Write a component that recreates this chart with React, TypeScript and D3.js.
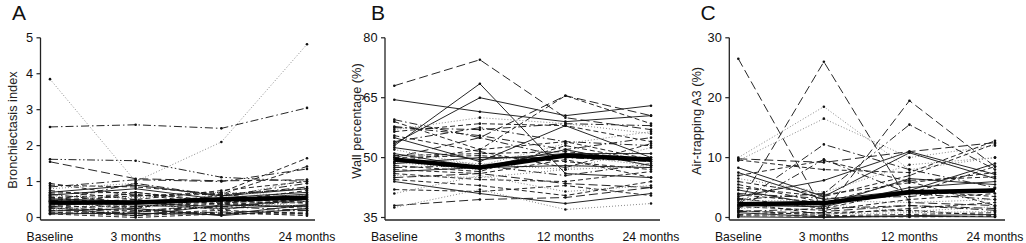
import React from "react";
import * as d3 from "d3";

const timepoints = ["Baseline", "3 months", "12 months", "24 months"];

// Panel A: Bronchiectasis index, one row per subject [Baseline, 3m, 12m, 24m]
const bronchiectasis: number[][] = [
  [3.85, 1.0, 2.1, 4.82],
  [2.52, 2.58, 2.48, 3.05],
  [1.62, 1.58, 1.12, 1.0],
  [1.55, 1.08, 1.02, 1.05],
  [0.95, 0.6, 0.7, 1.65],
  [0.9, 0.85, 0.65, 1.42],
  [0.85, 1.05, 1.0, 1.35],
  [0.8, 0.95, 0.55, 1.05],
  [0.75, 0.5, 0.75, 1.0],
  [0.7, 0.9, 0.6, 0.8],
  [0.68, 0.7, 0.45, 0.75],
  [0.65, 0.4, 0.6, 0.85],
  [0.62, 0.8, 0.5, 0.65],
  [0.6, 0.55, 0.7, 0.6],
  [0.58, 0.3, 0.4, 0.55],
  [0.55, 0.65, 0.35, 0.5],
  [0.52, 0.45, 0.55, 0.7],
  [0.5, 0.2, 0.3, 0.45],
  [0.48, 0.6, 0.65, 0.4],
  [0.45, 0.35, 0.25, 0.35],
  [0.42, 0.25, 0.5, 0.3],
  [0.4, 0.5, 0.2, 0.6],
  [0.38, 0.15, 0.4, 0.25],
  [0.35, 0.4, 0.3, 0.5],
  [0.32, 0.1, 0.15, 0.2],
  [0.3, 0.3, 0.45, 0.4],
  [0.28, 0.05, 0.35, 0.3],
  [0.25, 0.2, 0.1, 0.15],
  [0.22, 0.35, 0.25, 0.45],
  [0.2, 0.1, 0.2, 0.1],
  [0.18, 0.25, 0.05, 0.25],
  [0.15, 0.05, 0.15, 0.05],
  [0.12, 0.15, 0.3, 0.2],
  [0.1, 0.0, 0.1, 0.1],
  [0.1, 0.12, 0.08, 0.35],
  [0.3, 0.7, 0.4, 0.55],
  [0.45, 0.95, 0.6, 0.95],
  [0.55, 0.25, 0.65, 0.8],
];
const bronchiectasisMean = [0.42, 0.42, 0.5, 0.55];
const bronchiectasisStyles = [
  "dot", "dashdot", "dashdotdot", "long", "dash", "dash", "dashdot", "dot", "dash", "solid",
  "dash", "dashdot", "solid", "dot", "dash", "dash", "solid", "dashdot", "dash", "solid",
  "dot", "dash", "dash", "solid", "dashdot", "dash", "solid", "dash", "dot", "dash",
  "solid", "dash", "dashdot", "dash", "solid", "dash", "dashdot", "dash",
];

// Panel B: Wall percentage (%)
const wallPercentage: number[][] = [
  [68.0, 74.5, 60.0, 57.0],
  [64.5, 61.5, 59.0, 60.5],
  [53.0, 68.5, 46.0, 45.0],
  [53.5, 65.0, 60.5, 63.0],
  [50.0, 55.0, 65.5, 60.5],
  [59.0, 52.0, 65.5, 58.5],
  [57.5, 57.0, 58.5, 58.0],
  [57.0, 60.0, 58.5, 56.0],
  [56.5, 58.5, 58.0, 54.0],
  [55.0, 49.0, 58.0, 50.0],
  [54.0, 57.5, 54.0, 53.0],
  [52.0, 48.0, 53.5, 56.5],
  [51.0, 47.5, 52.0, 48.0],
  [50.5, 51.0, 51.5, 49.5],
  [50.0, 50.5, 49.0, 47.0],
  [49.5, 48.5, 47.0, 52.5],
  [48.5, 50.0, 50.0, 50.0],
  [48.0, 46.5, 53.0, 49.0],
  [47.5, 48.0, 45.5, 48.5],
  [47.0, 46.0, 49.5, 45.0],
  [46.5, 47.5, 48.0, 47.5],
  [46.0, 44.5, 44.0, 46.5],
  [45.5, 45.0, 47.0, 48.0],
  [45.0, 46.0, 43.5, 42.5],
  [44.5, 43.0, 40.5, 44.0],
  [44.0, 41.0, 38.5, 41.0],
  [42.0, 41.5, 43.0, 40.5],
  [41.0, 45.5, 41.5, 43.0],
  [38.0, 39.5, 40.0, 42.5],
  [37.5, 42.0, 37.0, 38.5],
  [59.5, 55.0, 50.0, 49.0],
  [49.0, 52.0, 54.0, 49.5],
  [52.5, 49.5, 51.0, 51.0],
  [55.5, 51.5, 47.5, 53.5],
  [57.8, 55.5, 52.0, 55.0],
  [48.8, 47.0, 50.5, 48.0],
];
const wallMean = [49.5, 47.5, 50.5, 49.5];
const wallStyles = [
  "long", "solid", "solid", "solid", "long", "dash", "dashdot", "dot", "dash", "solid",
  "dashdot", "dot", "solid", "dash", "dash", "dot", "solid", "dash", "dashdot", "dash",
  "solid", "dash", "dot", "long", "dash", "solid", "dash", "dot", "long", "dot",
  "dashdot", "dash", "solid", "dash", "dashdot", "dot",
];

// Panel C: Air-trapping A3 (%)
const airTrapping: number[][] = [
  [26.5, 1.0, 2.0, 1.5],
  [2.0, 26.0, 2.5, 2.0],
  [10.0, 18.5, 8.0, 10.0],
  [9.5, 16.5, 10.0, 12.0],
  [2.2, 12.2, 8.0, 5.0],
  [1.0, 0.8, 19.5, 8.5],
  [3.0, 4.0, 15.5, 8.0],
  [9.8, 9.2, 11.0, 12.5],
  [3.5, 6.2, 11.0, 7.2],
  [8.3, 3.5, 10.8, 6.5],
  [9.6, 8.0, 7.5, 12.8],
  [7.5, 3.0, 4.5, 9.0],
  [7.0, 9.5, 6.0, 2.0],
  [6.0, 3.8, 5.8, 7.5],
  [5.5, 2.5, 4.0, 8.5],
  [4.6, 2.0, 6.5, 5.5],
  [4.0, 3.2, 3.5, 4.8],
  [3.2, 1.5, 4.5, 3.5],
  [2.8, 2.8, 2.5, 3.0],
  [2.5, 0.5, 1.5, 2.5],
  [2.0, 1.8, 5.0, 6.0],
  [1.8, 1.2, 3.0, 4.0],
  [1.5, 2.2, 1.0, 1.8],
  [1.2, 0.3, 0.5, 0.8],
  [1.0, 1.5, 2.0, 1.2],
  [0.8, 0.1, 0.3, 0.5],
  [0.5, 0.8, 1.2, 0.3],
  [0.3, 0.2, 0.1, 0.2],
  [0.2, 0.6, 0.8, 1.0],
  [0.1, 0.0, 0.2, 0.1],
  [6.5, 4.2, 8.8, 10.0],
  [5.0, 3.5, 7.0, 12.3],
  [1.5, 9.7, 4.0, 3.0],
  [3.8, 2.5, 6.2, 6.8],
];
const airMean = [2.2, 2.4, 4.2, 4.5];
const airStyles = [
  "long", "long", "dot", "dot", "dashdot", "long", "dashdot", "long", "solid", "solid",
  "dash", "solid", "dash", "dash", "dash", "solid", "dashdot", "dash", "dot", "dash",
  "solid", "dash", "dot", "dash", "dashdot", "solid", "dash", "dash", "dot", "solid",
  "dot", "dash", "dashdot", "dash",
];

const dashFor: Record<string, string | undefined> = {
  solid: undefined,
  long: "9,4",
  dash: "5,3",
  dot: "1,2",
  dashdot: "8,3,1.5,3",
  dashdotdot: "8,2.5,1.5,2.5,1.5,2.5",
};

type PanelDef = {
  letter: string;
  ylabel: string;
  rows: number[][];
  mean: number[];
  styles: string[];
  domain: [number, number];
  ticks: number[];
  axisX: number;
  x0: number;
  x3: number;
  xEnd: number;
  letterX: number;
  labelX: number;
  labelY: number;
};

const panels: PanelDef[] = [
  {
    letter: "A", ylabel: "Bronchiectasis index", rows: bronchiectasis, mean: bronchiectasisMean,
    styles: bronchiectasisStyles, domain: [0, 5], ticks: [0, 1, 2, 3, 4, 5],
    axisX: 40.5, x0: 50, x3: 307, xEnd: 315, letterX: 12, labelX: 12, labelY: 130,
  },
  {
    letter: "B", ylabel: "Wall percentage (%)", rows: wallPercentage, mean: wallMean,
    styles: wallStyles, domain: [35, 80], ticks: [35, 50, 65, 80],
    axisX: 385, x0: 394.3, x3: 651, xEnd: 660, letterX: 371, labelX: 356.7, labelY: 121,
  },
  {
    letter: "C", ylabel: "Air-trapping A3 (%)", rows: airTrapping, mean: airMean,
    styles: airStyles, domain: [0, 30], ticks: [0, 10, 20, 30],
    axisX: 729.3, x0: 738.3, x3: 995, xEnd: 1005, letterX: 700.5, labelX: 696.7, labelY: 121,
  },
];

const FONT = "'Liberation Sans', Arial, sans-serif";

function Panel({ p }: { p: PanelDef }) {
  const y = d3.scaleLinear().domain(p.domain).range([217.5, 37.8]);
  const x = d3.scalePoint<string>().domain(timepoints).range([p.x0, p.x3]);
  const line = d3
    .line<number>()
    .x((_, i) => x(timepoints[i]) as number)
    .y((v) => y(v));
  const axisY = 220;
  return (
    <g>
      <text x={p.letterX} y={20} fontFamily={FONT} fontSize={21} fill="#111">
        {p.letter}
      </text>
      <text
        transform={`translate(${p.labelX + 4.5},${p.labelY}) rotate(-90)`}
        textAnchor="middle"
        fontFamily={FONT}
        fontSize={12.8}
        fill="#222"
      >
        {p.ylabel}
      </text>
      {p.rows.map((r, i) => {
        const st = p.styles[i % p.styles.length];
        const isDot = st === "dot";
        return (
          <g key={i}>
            <path
              d={line(r) || ""}
              fill="none"
              stroke={isDot ? "#8a8a8a" : "#1a1a1a"}
              strokeWidth={isDot ? 1 : 0.95}
              strokeDasharray={dashFor[st]}
            />
            {r.map((v, j) => (
              <circle key={j} cx={x(timepoints[j]) as number} cy={y(v)} r={1.3} fill="#111" />
            ))}
          </g>
        );
      })}
      <path d={line(p.mean) || ""} fill="none" stroke="#000" strokeWidth={4.5} strokeLinejoin="round" />
      {/* axes */}
      <line x1={p.axisX} x2={p.axisX} y1={y(p.domain[1])} y2={axisY} stroke="#222" strokeWidth={1.3} />
      <line x1={p.axisX} x2={p.xEnd} y1={axisY} y2={axisY} stroke="#222" strokeWidth={1.3} />
      {p.ticks.map((t) => (
        <g key={t}>
          <line x1={p.axisX - 4} x2={p.axisX} y1={y(t)} y2={y(t)} stroke="#222" strokeWidth={1.2} />
          <text
            x={p.axisX - 7.5}
            y={y(t)}
            dy="0.36em"
            textAnchor="end"
            fontFamily={FONT}
            fontSize={12.8}
            fill="#111"
          >
            {t}
          </text>
        </g>
      ))}
      {timepoints.map((tp) => (
        <text
          key={tp}
          x={x(tp) as number}
          y={241}
          textAnchor="middle"
          fontFamily={FONT}
          fontSize={12.2}
          fill="#111"
        >
          {tp}
        </text>
      ))}
    </g>
  );
}

export default function App() {
  return (
    <svg
      width={1026}
      height={243}
      style={{ position: "absolute", left: 0, top: 0, background: "#fff" }}
    >
      <rect width={1026} height={243} fill="#fff" />
      {panels.map((p) => (
        <Panel key={p.letter} p={p} />
      ))}
    </svg>
  );
}
